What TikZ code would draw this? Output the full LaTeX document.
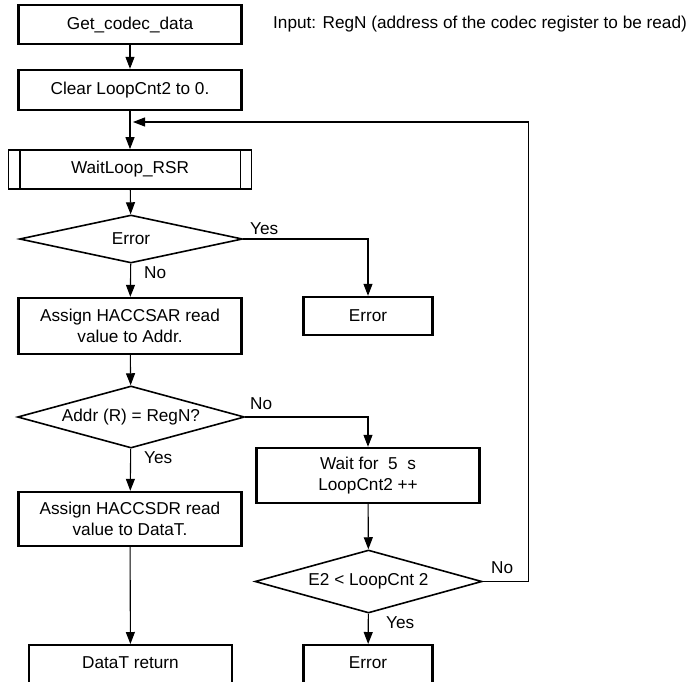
\documentclass[tikz,border=0pt]{standalone}
\usepackage{fontspec}
\setmainfont{Liberation Sans}
\usetikzlibrary{arrows.meta,shapes.geometric}
\begin{document}
\begin{tikzpicture}[x=1pt,y=-1pt,
  every node/.style={font=\fontsize{17.2}{21}\selectfont},
  box/.style={draw, line width=2.4pt, rectangle, inner sep=0pt, align=center},
  dec/.style={draw, line width=1.6pt, diamond, inner sep=0pt, aspect=3},
  lbl/.style={inner sep=0pt, anchor=west},
  arr/.style={line width=1.1pt, -{Triangle[length=12pt,width=9pt]}},
  ln/.style={line width=1.1pt}]
\clip (0,0) rectangle (688,681);
\fill[white] (0,0) rectangle (688,681);
% nodes
\node[box, minimum width=223pt, minimum height=39pt] (get) at (130,24.5) {Get\_codec\_data};
\node[lbl] (input) at (273,24) {Input: RegN (address of the codec register to be read)};
\node[box, minimum width=223pt, minimum height=40pt] (clear) at (130,90) {Clear LoopCnt2 to 0.};
\node[box, line width=1.8pt, minimum width=243pt, minimum height=39pt] (wait) at (130,169.5) {WaitLoop\_RSR};
\draw[line width=1.8pt] ([xshift=12pt]wait.north west) -- ([xshift=12pt]wait.south west);
\draw[line width=1.8pt] ([xshift=-12pt]wait.north east) -- ([xshift=-12pt]wait.south east);
\node[dec, minimum width=223pt, minimum height=48pt] (err) at (131,239) {Error};
\node[box, minimum width=129pt, minimum height=38pt] (e1) at (368,316) {Error};
\node[box, minimum width=223pt, minimum height=56pt] (as1) at (130,326) {Assign HACCSAR read\\value to Addr.};
\node[dec, minimum width=227pt, minimum height=62pt] (addr) at (131,417) {Addr (R) = RegN?};
\node[box, minimum width=223pt, minimum height=55pt] (wt) at (368,475.5) {Wait for\ \ 5\ \ s\\LoopCnt2 ++};
\node[box, minimum width=223pt, minimum height=54pt] (as2) at (130,519) {Assign HACCSDR read\\value to DataT.};
\node[dec, minimum width=227pt, minimum height=63pt] (e2) at (368.5,581.5) {E2 < LoopCnt 2};
\node[box, minimum width=203pt, minimum height=56pt, anchor=north] (ret) at (130.5,644) {};
\node[inner sep=0pt] (rettxt) at (130.5,663) {DataT return};
\node[box, minimum width=129pt, minimum height=56pt, anchor=north] (er2) at (368,644) {};
\node[inner sep=0pt] (er2txt) at (368,663) {Error};
\coordinate (loopin) at (133,122);
% labels
\node[lbl] (no1) at (144,273) {No};
\node[lbl] (yes1) at (250,229) {Yes};
\node[lbl] (yes2) at (144,458) {Yes};
\node[lbl] (no2) at (250,404) {No};
\node[lbl] (yes3) at (386,623) {Yes};
\node[lbl] (no3) at (491,568) {No};
% connectors
\draw[arr] (get) -- (clear);
\draw[arr] (clear) -- (wait);
\draw[arr] (wait) -- (err);
\draw[arr] (err) -- (as1);
\draw[arr] (err.east) -| (e1.north);
\draw[arr] (as1) -- (addr);
\draw[arr] (addr) -- (as2);
\draw[arr] (addr.east) -| (wt.north);
\draw[arr] (wt) -- (e2);
\draw[arr] (e2) -- (er2);
\draw[arr] (as2) -- (ret);
\draw[arr] (e2.east) -- ++(46,0) |- (loopin);
\end{tikzpicture}
\end{document}
